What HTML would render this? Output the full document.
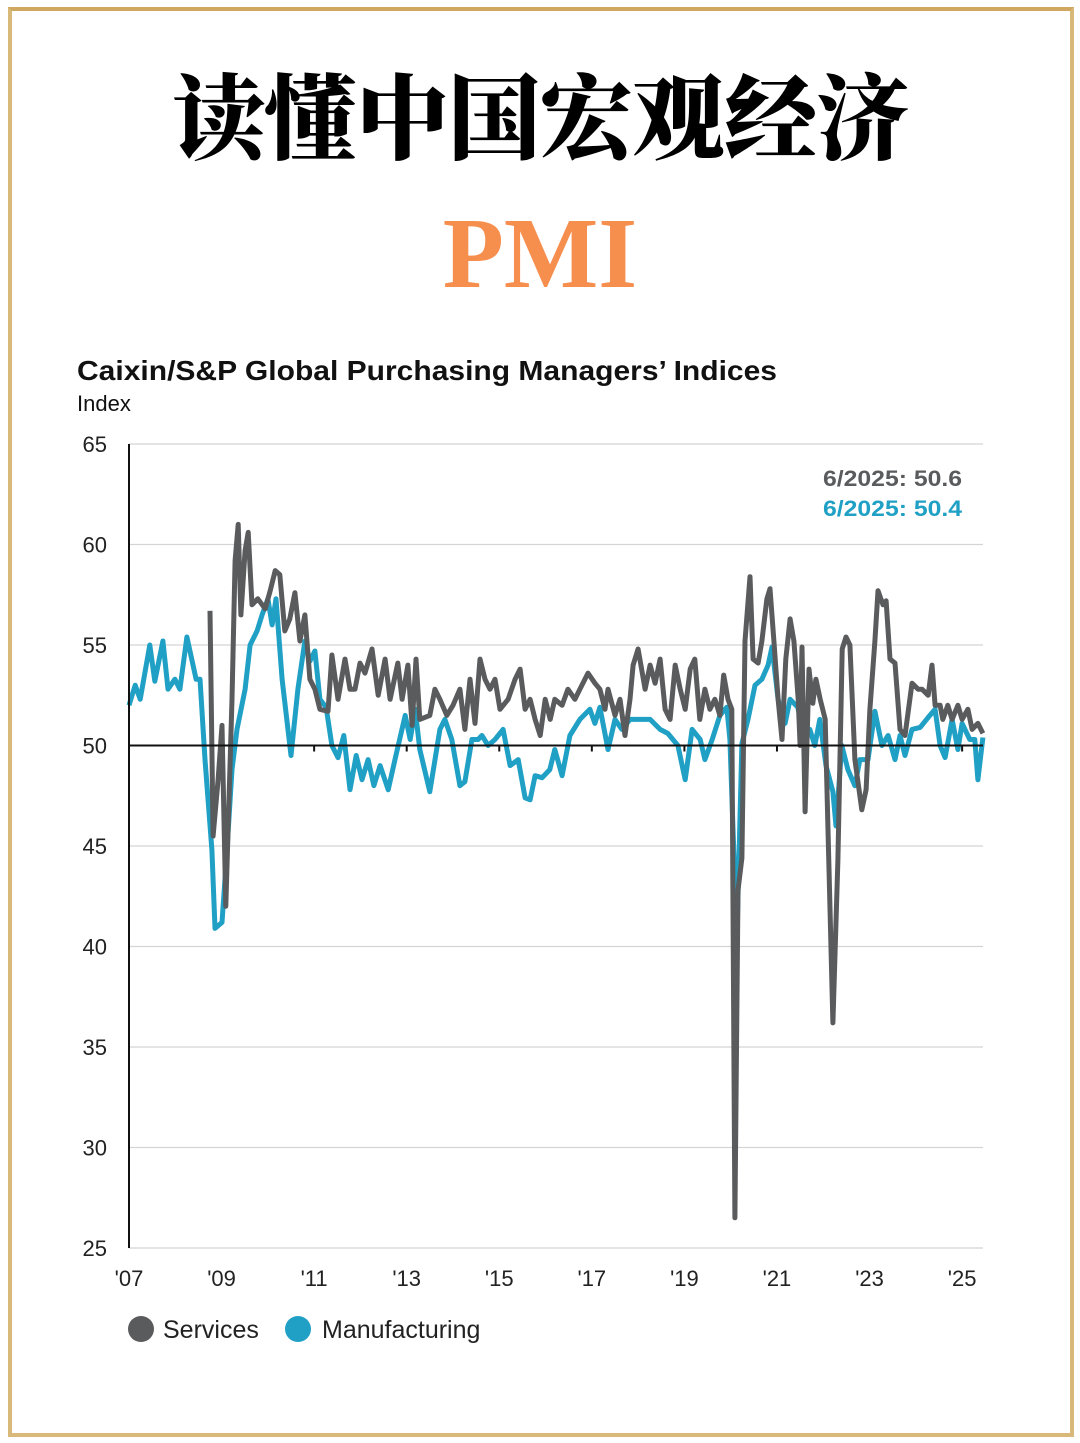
<!DOCTYPE html>
<html><head><meta charset="utf-8">
<style>
body{margin:0;width:1080px;height:1443px;background:#fff;overflow:hidden;position:relative;font-family:"Liberation Sans",sans-serif}
.frame{position:absolute;left:8px;top:7px;width:1058px;height:1422px;border:4px solid #d9b979;border-top-color:#cfa75e;}
.title{position:absolute;left:0;width:1080px;top:52px;text-align:center;font-family:"Noto Serif CJK SC","Liberation Serif",serif;font-weight:900;font-size:93px;line-height:120px;color:#000;letter-spacing:-1px}
.pmi{position:absolute;left:0;width:1080px;top:198px;text-align:center;font-family:"Liberation Serif",serif;font-weight:bold;font-size:101px;line-height:110px;color:#f68e4e;transform:scaleX(0.99)}
</style></head><body>
<div class="frame"></div>
<div class="title">读懂中国宏观经济</div>
<div class="pmi">PMI</div>
<svg id="chart" width="1080" height="1443" style="position:absolute;left:0;top:0">
<text x="77" y="380" font-size="28" font-weight="bold" fill="#111" textLength="700" lengthAdjust="spacingAndGlyphs">Caixin/S&amp;P Global Purchasing Managers’ Indices</text>
<text x="77" y="411" font-size="22" fill="#111">Index</text>
<text x="823" y="486" font-size="22" font-weight="bold" fill="#5a5b5d" textLength="139" lengthAdjust="spacingAndGlyphs">6/2025: 50.6</text>
<text x="823" y="516" font-size="22" font-weight="bold" fill="#1fa0c4" textLength="139" lengthAdjust="spacingAndGlyphs">6/2025: 50.4</text>
<circle cx="141" cy="1329" r="13" fill="#5a5b5d"/>
<text x="163" y="1338" font-size="25" fill="#222">Services</text>
<circle cx="298" cy="1329" r="13" fill="#1fa0c4"/>
<text x="322" y="1338" font-size="25" fill="#222">Manufacturing</text>
</svg>
<script>
const yTicks=[65,60,55,50,45,40,35,30,25];
const xTickLabels=["'07","'09","'11","'13","'15","'17","'19","'21","'23","'25"];
const xTickMonths=[0,24,48,72,96,120,144,168,192,216];
const mfgMonths=[0,1.6,2.9,5.4,6.7,8.8,10.1,11.9,13.2,15.0,17.4,18.4,19.7,21.5,22.3,24.1,25.4,26.7,28.0,30.1,31.4,33.2,34.5,36.0,37.1,38.1,39.7,42.0,43.8,45.6,46.9,48.2,49.5,51.1,52.6,54.2,55.7,57.3,58.9,60.4,62.0,63.5,65.1,67.2,69.2,71.6,72.9,74.2,75.4,78.0,80.6,81.9,83.7,85.8,87.1,88.9,90.5,91.5,93.1,94.9,97.0,98.8,100.9,102.7,104.0,105.3,107.1,109.1,110.4,112.3,114.3,116.9,119.5,120.8,122.1,124.2,126.0,127.8,129.9,132.5,135.1,137.7,139.7,142.3,144.2,146.0,148.1,149.3,151.2,153.2,155.0,155.8,157.6,158.9,160.5,162.3,164.1,165.7,166.7,168.3,170.1,171.4,173.4,175.2,176.5,177.8,179.1,180.7,182.5,183.3,184.8,186.4,188.2,189.5,191.6,193.4,195.2,196.8,198.6,199.9,201.2,203.0,205.1,207.2,209.0,210.3,211.6,213.4,214.9,216.0,218.0,219.3,220.1,221.4];
const mfgValues=[52.0,53.0,52.3,55.0,53.2,55.2,52.8,53.3,52.8,55.4,53.3,53.3,49.3,44.8,40.9,41.2,44.8,48.8,50.8,52.8,55.0,55.7,56.5,57.3,56.0,57.3,53.3,49.5,52.8,55.2,54.2,54.7,52.3,51.9,50.0,49.4,50.5,47.8,49.5,48.3,49.3,48.0,49.0,47.8,49.5,51.5,50.3,51.8,49.8,47.7,50.8,51.3,50.3,48.0,48.2,50.3,50.3,50.5,50.0,50.3,50.8,49.0,49.3,47.4,47.3,48.5,48.4,48.8,49.8,48.5,50.5,51.3,51.8,51.1,51.9,49.8,51.3,50.8,51.3,51.3,51.3,50.8,50.6,50.0,48.3,50.8,50.3,49.3,50.3,51.5,51.9,50.3,40.3,50.1,51.3,53.0,53.3,54.0,54.9,52.3,51.1,52.3,51.9,50.3,50.8,50.0,51.3,49.0,47.7,46.0,50.0,48.8,48.0,49.3,49.3,51.7,50.0,50.5,49.3,50.5,49.5,50.8,50.9,51.4,51.8,50.0,49.4,51.3,49.8,51.1,50.3,50.3,48.3,50.4];
const svcMonths=[21.0,21.8,23.1,24.1,25.1,26.7,27.5,28.3,29.0,30.1,30.9,31.9,33.4,35.3,36.6,37.9,39.1,40.4,41.7,43.0,44.3,45.6,46.9,48.2,49.5,51.6,52.6,54.2,56.0,57.3,58.6,59.9,61.2,63.0,64.6,66.4,67.7,69.7,70.8,72.3,73.4,74.4,75.4,78.0,79.3,80.6,82.4,84.0,85.8,87.1,88.4,89.7,91.0,92.3,93.6,94.9,96.2,98.3,100.1,101.4,102.7,104.0,105.3,106.6,107.9,109.2,110.4,112.3,113.8,115.6,116.9,119.0,120.8,122.1,123.4,124.2,126.0,127.3,128.6,129.9,130.7,132.0,133.8,135.1,136.4,137.7,139.0,140.3,141.6,142.9,144.2,145.5,146.7,148.0,149.3,150.6,151.9,153.2,154.2,155.3,156.3,157.1,157.9,158.9,159.7,161.0,161.8,163.1,164.1,165.4,166.2,167.2,168.3,169.3,170.3,171.4,172.4,173.5,174.0,174.5,175.3,176.3,177.3,178.1,179.2,180.5,182.5,183.8,184.9,185.9,186.9,188.2,190.0,191.1,192.1,193.4,194.2,195.5,196.3,197.3,198.6,199.9,201.2,203.0,204.6,205.6,207.2,208.2,209.0,210.3,211.0,212.3,213.4,214.9,216.0,217.5,218.6,220.1,221.4];
const svcValues=[56.7,45.5,48.3,51.0,42.0,52.3,59.2,61.0,56.5,59.7,60.6,57.0,57.3,56.8,57.7,58.7,58.5,55.7,56.3,57.6,55.2,56.5,53.3,52.8,51.8,51.7,54.5,52.3,54.3,52.8,52.8,54.1,53.6,54.8,52.5,54.3,52.3,54.1,52.3,54.0,51.0,54.3,51.3,51.5,52.8,52.3,51.5,52.0,52.8,50.8,53.3,51.1,54.3,53.3,52.8,53.3,51.8,52.3,53.3,53.8,51.8,52.3,51.3,50.5,52.3,51.3,52.3,52.0,52.8,52.3,52.8,53.6,53.1,52.8,51.8,52.8,51.5,52.3,50.5,52.3,54.0,54.8,52.8,54.0,53.1,54.3,51.8,51.3,54.0,52.8,51.8,53.8,54.3,51.3,52.8,51.8,52.3,51.5,53.5,52.3,51.8,26.5,42.8,44.4,55.2,58.4,54.3,54.1,55.2,57.3,57.8,55.2,52.3,50.3,54.3,56.3,55.2,52.3,50.0,54.9,46.7,53.8,52.1,53.3,52.3,51.3,36.2,44.3,54.8,55.4,55.0,49.3,46.8,47.8,51.8,55.2,57.7,57.0,57.2,54.3,54.1,50.8,50.5,53.1,52.8,52.8,52.5,54.0,52.0,52.0,51.3,52.0,51.3,52.0,51.3,51.8,50.8,51.1,50.6];
const svg=document.getElementById('chart');
const NS='http://www.w3.org/2000/svg';
const X0=129,XPM=3.857,Y0=444,YPU=20.1,XR=983;
function xs(m){return X0+m*XPM;}
function ys(v){return Y0+(65-v)*YPU;}
function mk(t,a){const e=document.createElementNS(NS,t);for(const k in a)e.setAttribute(k,a[k]);svg.appendChild(e);return e;}
yTicks.forEach(v=>{
  if(v!==50){const g=mk('line',{x1:X0,x2:XR,y1:ys(v),y2:ys(v),stroke:'#d4d4d4','stroke-width':1.3});
  
  }
  const t=mk('text',{x:107,y:ys(v)+8,'font-size':22,fill:'#222','text-anchor':'end'});t.textContent=v;
  
  
});
xTickMonths.forEach((m,i)=>{
  const t=mk('text',{x:xs(m),y:1286,'font-size':22,fill:'#222','text-anchor':'middle'});t.textContent=xTickLabels[i];
  
  
  const k=mk('line',{x1:xs(m),x2:xs(m),y1:ys(50),y2:ys(50)+6,stroke:'#111','stroke-width':2});
  
  
});
function line(ms,vs,col,name){
  const d=ms.map((m,i)=>(i?'L':'M')+xs(m).toFixed(1)+' '+ys(vs[i]).toFixed(1)).join(' ');
  const p=mk('path',{d:d,fill:'none',stroke:col,'stroke-width':5,'stroke-linejoin':'round'});
  
  
}
line(mfgMonths,mfgValues,'#1fa0c4','manufacturing-line');
line(svcMonths,svcValues,'#5a5b5d','services-line');
const base=mk('line',{x1:X0,x2:XR,y1:ys(50),y2:ys(50),stroke:'#111','stroke-width':2});


const ax=mk('line',{x1:X0,x2:X0,y1:Y0,y2:ys(25),stroke:'#111','stroke-width':2});


</script>
</body></html>
